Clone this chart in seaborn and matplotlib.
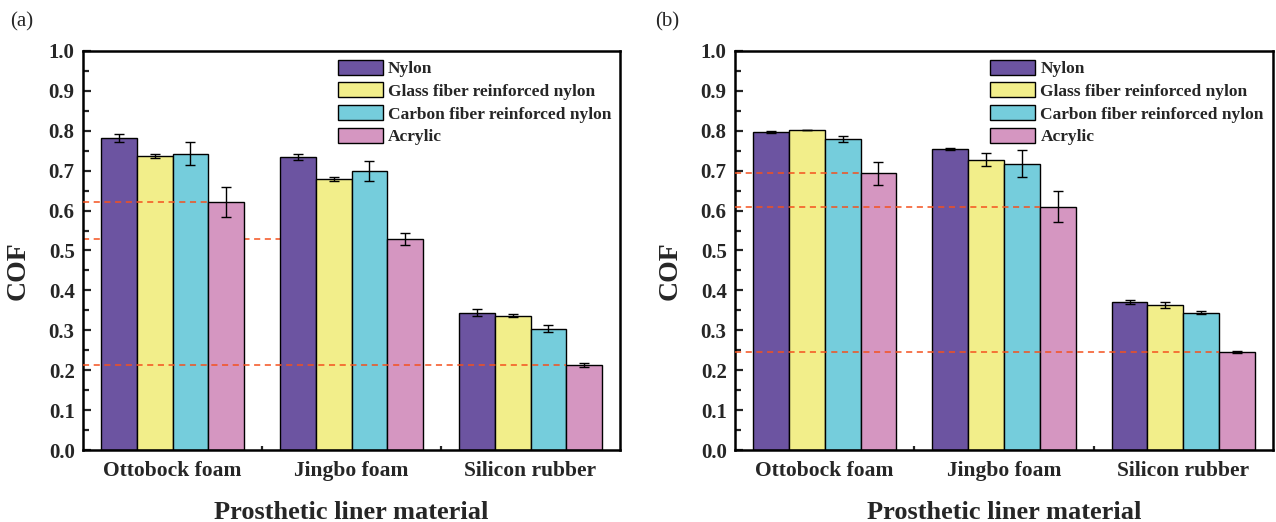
import numpy as np
import pandas as pd
import matplotlib
matplotlib.use("Agg")
import matplotlib.pyplot as plt
from matplotlib.ticker import MultipleLocator, FixedLocator
import seaborn as sns

# ---- data -------------------------------------------------------------
liners = ["Ottobock foam", "Jingbo foam", "Silicon rubber"]
sockets = ["Nylon", "Glass fiber reinforced nylon",
           "Carbon fiber reinforced nylon", "Acrylic"]

# panel (a): mean COF per socket material, rows follow `sockets`, columns follow `liners`
cof_a = [[0.783, 0.735, 0.344],
         [0.737, 0.678, 0.337],
         [0.743, 0.700, 0.304],
         [0.622, 0.530, 0.214]]
err_a = [[0.010, 0.007, 0.009],
         [0.005, 0.005, 0.003],
         [0.028, 0.025, 0.009],
         [0.037, 0.015, 0.005]]

# panel (b)
cof_b = [[0.797, 0.754, 0.371],
         [0.802, 0.728, 0.364],
         [0.779, 0.718, 0.344],
         [0.693, 0.610, 0.246]]
err_b = [[0.002, 0.002, 0.005],
         [0.001, 0.016, 0.007],
         [0.008, 0.035, 0.004],
         [0.030, 0.038, 0.003]]

palette = ["#6C54A1", "#F2EE8A", "#75CDDC", "#D596C1"]

sns.set_style("white")
plt.rcParams["font.family"] = ["Liberation Serif", "DejaVu Serif"]


def long_table(values):
    rows = []
    for s, row in zip(sockets, values):
        for liner, v in zip(liners, row):
            rows.append({"liner": liner, "socket": s, "cof": v})
    return pd.DataFrame(rows)


def draw_panel(ax, values, errors, guide_front):
    df = long_table(values)
    sns.barplot(data=df, x="liner", y="cof", hue="socket",
                order=liners, hue_order=sockets, palette=palette,
                width=0.8, edgecolor="black", linewidth=1.0,
                saturation=1.0, errorbar=None, ax=ax, zorder=2)

    # error bars on top of each bar
    for cont, errs in zip(ax.containers, errors):
        xs = [b.get_x() + b.get_width() / 2 for b in cont]
        ys = [b.get_height() for b in cont]
        ax.errorbar(xs, ys, yerr=errs, fmt="none", ecolor="black",
                    elinewidth=1.0, capsize=3.8, capthick=1.0, zorder=4)

    # dashed guide lines at the acrylic level of each liner
    acrylic = ax.containers[3]
    for b, front in zip(acrylic, guide_front):
        ax.hlines(b.get_height(), -0.5, b.get_x(), colors="#F4511E",
                  linestyles=(0, (4, 3)), linewidth=1.1,
                  zorder=3 if front else 1)

    ax.set_xlim(-0.5, 2.5)
    ax.set_ylim(0, 1.0)
    ax.yaxis.set_major_locator(MultipleLocator(0.1))
    ax.yaxis.set_minor_locator(MultipleLocator(0.05))
    ax.set_yticklabels([f"{t:.1f}" for t in ax.get_yticks()])
    ax.xaxis.set_minor_locator(FixedLocator([0.5, 1.5]))

    ax.tick_params(axis="y", which="major", direction="in", length=6, width=1.6,
                   labelsize=15, pad=6, left=True)
    ax.tick_params(axis="y", which="minor", direction="in", length=4, width=1.6, left=True)
    ax.tick_params(axis="x", which="major", length=0, labelsize=15.5, pad=8)
    ax.tick_params(axis="x", which="minor", direction="in", length=3, width=1.6, bottom=True)
    for lab in ax.get_yticklabels() + ax.get_xticklabels():
        lab.set_fontweight("bold")

    for sp in ax.spines.values():
        sp.set_visible(True)
        sp.set_linewidth(1.8)
        sp.set_color("black")

    ax.set_xlabel("Prosthetic liner material", fontsize=19, fontweight="bold", labelpad=14)
    ax.set_ylabel("COF", fontsize=20, fontweight="bold")
    ax.yaxis.set_label_coords(-0.097, 0.45)

    handles, labels = ax.get_legend_handles_labels()
    ax.legend(handles, labels, loc="upper left", bbox_to_anchor=(0.474, 0.978),
              frameon=False, handlelength=2.6, handleheight=0.95,
              handletextpad=0.3, labelspacing=0.3, borderaxespad=0.0,
              borderpad=0.0, prop={"weight": "bold", "size": 12.5})

    return ax


fig = plt.figure(figsize=(12.76, 5.22), dpi=100)
ax_a = fig.add_axes([83 / 1276, 72 / 522, 537 / 1276, 399 / 522])
ax_b = fig.add_axes([735 / 1276, 72 / 522, 538 / 1276, 399 / 522])

draw_panel(ax_a, cof_a, err_a, [True, False, True])
draw_panel(ax_b, cof_b, err_b, [True, True, True])

fig.text(10 / 1276, 1 - 22 / 522, "(a)", fontsize=15, va="center", ha="left")
fig.text(655 / 1276, 1 - 22 / 522, "(b)", fontsize=15, va="center", ha="left")

fig.savefig("out.png", dpi=100)
